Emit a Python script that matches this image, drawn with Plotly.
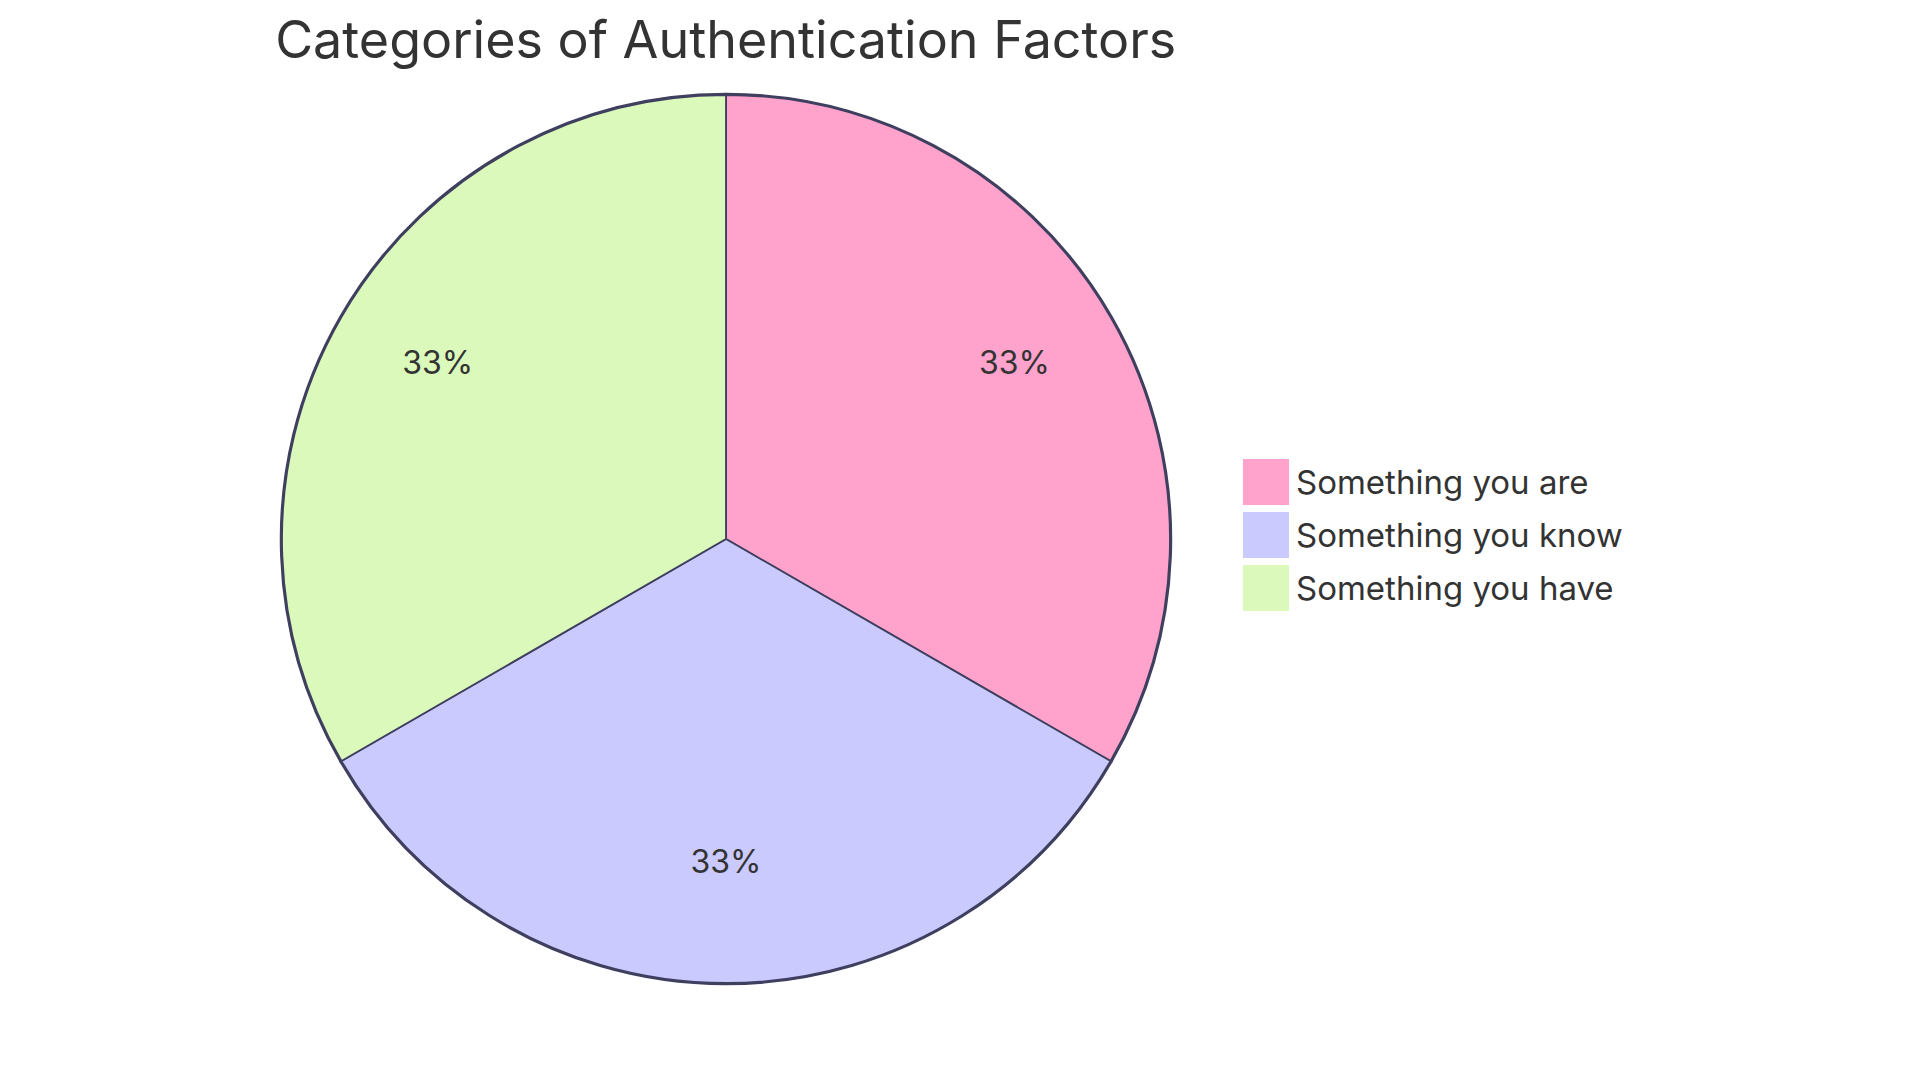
import plotly.graph_objects as go

labels = ['Something you are', 'Something you know', 'Something you have']
values = [1, 1, 1]
colors = ['#FFA3CC', '#CACAFF', '#DBF9BB']

title_text = 'Categories of Authentication Factors'
font_name = 'Inter'
text_color = '#333333'
edge_color = '#3F3F5F'

# the page body adds 8px around the figure, so positions below are shifted back by that
pie_domain = dict(x=[0.1427, 0.6052], y=[0.0972, 0.9194])
# the text ring sits a few px higher, like the original labels
text_domain = dict(x=[0.1427, 0.6052], y=[0.1065, 0.9287])

fig = go.Figure()

# bottom layer only gives the thick outer rim
fig.add_trace(go.Pie(labels=labels, values=values, sort=False,
                     direction='clockwise', rotation=0,
                     marker=dict(colors=colors, line=dict(color=edge_color, width=4.5)),
                     textinfo='none', domain=pie_domain,
                     showlegend=False, hoverinfo='skip'))

# main slices with thinner dividers
fig.add_trace(go.Pie(labels=labels, values=values, sort=False,
                     direction='clockwise', rotation=0,
                     marker=dict(colors=colors, line=dict(color=edge_color, width=1.8)),
                     textinfo='none', domain=pie_domain,
                     showlegend=False, hoverinfo='label+percent'))

# transparent ring on top, only to put the percentages further out
fig.add_trace(go.Pie(labels=labels, values=values, sort=False,
                     direction='clockwise', rotation=0, hole=0.5,
                     marker=dict(colors=['rgba(0,0,0,0)'] * len(labels), line=dict(width=0)),
                     texttemplate='%{percent:.0%}', textposition='inside',
                     insidetextorientation='horizontal',
                     textfont=dict(family=font_name, size=32, color=text_color),
                     domain=text_domain, showlegend=False, hoverinfo='skip'))

# legend drawn by hand so the swatches can be as big as in the original
for i, (lab, col) in enumerate(zip(labels, colors)):
    top = 1 - (451 + i * 53) / 1080
    fig.add_shape(type='rect', xref='paper', yref='paper',
                  x0=0.6432, x1=0.6672, y0=top - 46 / 1080, y1=top,
                  fillcolor=col, line=dict(width=0))
    fig.add_annotation(x=0.6698, y=top - 23 / 1080, xref='paper', yref='paper',
                       text=lab, showarrow=False, xanchor='left', yanchor='middle',
                       font=dict(family=font_name, size=33, color=text_color))

fig.update_layout(
    width=1920, height=1080,
    paper_bgcolor='white', plot_bgcolor='white',
    margin=dict(l=0, r=0, t=0, b=0),
    title=dict(text=title_text, x=0.3738, xanchor='center', xref='paper',
               y=1 - 32 / 1080, yanchor='middle', yref='container',
               font=dict(family=font_name, size=52, color=text_color)),
)

fig.write_html('out.html')
